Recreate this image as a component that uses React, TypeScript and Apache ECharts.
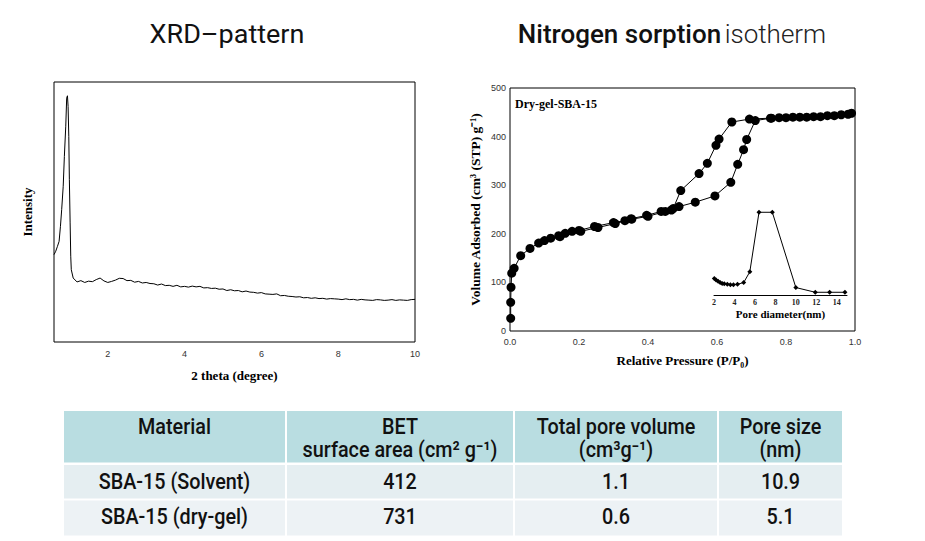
import React, { useEffect, useRef } from 'react';
import * as echarts from 'echarts';

// ---------- XRD pattern (2 theta in degrees, intensity in arbitrary units) ----------
const xrdTheta = [
  0.6, 0.645, 0.69, 0.733, 0.768, 0.8, 0.84, 0.87, 0.906, 0.93, 0.95, 0.967, 0.985, 1.0, 1.02, 1.036, 1.05,
  1.1, 1.2, 1.3, 1.4, 1.5, 1.6, 1.7, 1.8, 1.9, 2.0, 2.1, 2.2, 2.3, 2.4, 2.5, 2.6, 2.7, 2.8, 2.9, 3.0,
  3.1, 3.2, 3.3, 3.4, 3.5, 3.6, 3.7, 3.8, 3.9, 4.0, 4.1, 4.2, 4.3, 4.4, 4.5, 4.6, 4.7, 4.8, 4.9, 5.0,
  5.1, 5.2, 5.3, 5.4, 5.5, 5.6, 5.7, 5.8, 5.9, 6.0, 6.1, 6.2, 6.3, 6.4, 6.5, 6.6, 6.7, 6.8, 6.9, 7.0,
  7.1, 7.2, 7.3, 7.4, 7.5, 7.6, 7.7, 7.8, 7.9, 8.0, 8.1, 8.2, 8.3, 8.4, 8.5, 8.6, 8.7, 8.8, 8.9, 9.0,
  9.1, 9.2, 9.3, 9.4, 9.5, 9.6, 9.7, 9.8, 9.9, 10.0,
];
const xrdIntensity = [
  33.6, 34.9, 36.8, 38.7, 44.5, 50.9, 59.9, 71.4, 83.0, 93.8, 94.7, 90.6, 79.1, 62.4, 45.8, 33.0, 27.8,
  24.6, 23.1, 23.6, 22.9, 23.4, 23.2, 24.0, 24.6, 23.5, 22.9, 23.3, 23.8, 24.5, 24.4, 23.6, 23.7, 23.0, 23.3, 22.7, 22.9,
  22.5, 22.4, 21.9, 22.3, 21.7, 21.8, 21.4, 21.8, 21.2, 21.4, 21.1, 21.5, 21.2, 21.4, 20.8, 20.9, 20.6, 20.7, 20.3, 20.4,
  19.8, 20.1, 19.7, 19.8, 19.3, 19.6, 19.2, 19.1, 18.8, 19.0, 18.5, 18.4, 18.3, 18.5, 17.8, 17.9, 17.6, 17.5, 17.3, 17.4,
  17.0, 17.1, 16.8, 17.0, 16.7, 16.8, 16.5, 16.7, 16.6, 16.5, 16.3, 16.6, 16.3, 16.4, 16.1, 16.4, 16.2, 16.1, 16.0, 16.3,
  16.2, 16.0, 16.1, 16.3, 16.0, 16.2, 16.1, 16.0, 16.3, 16.4,
];

// ---------- N2 sorption isotherm (P/P0, cm3 (STP) g-1) ----------
const adsPressure = [
  0.002, 0.002, 0.003, 0.005, 0.012, 0.031, 0.058, 0.083, 0.1, 0.118, 0.141, 0.16, 0.18, 0.2, 0.245, 0.3,
  0.333, 0.351, 0.396, 0.438, 0.468, 0.49, 0.537, 0.594, 0.64, 0.66, 0.677, 0.686, 0.711, 0.758, 0.78,
  0.82, 0.86, 0.9, 0.94, 0.98,
];
const adsVolume = [
  26, 59, 90, 119, 129, 155, 170, 181, 186, 191, 196, 201, 205, 207, 215, 223,
  227, 231, 238, 246, 249, 256, 265, 278, 306, 343, 373, 394, 433, 438, 439,
  440, 440, 441, 443, 446,
];
const desPressure = [
  0.99, 0.96, 0.92, 0.88, 0.84, 0.8, 0.755, 0.694, 0.643, 0.606, 0.597, 0.572, 0.548, 0.495, 0.473,
  0.45, 0.4, 0.353, 0.305, 0.255, 0.205, 0.145,
];
const desVolume = [
  448, 445, 443, 441, 440, 439, 438, 436, 430, 395, 382, 345, 324, 289, 252,
  246, 236, 230, 221, 213, 205, 194,
];

// ---------- Pore size distribution inset (nm, arbitrary dV/dD) ----------
const poreDiameter = [2.03, 2.2, 2.4, 2.6, 2.8, 3.0, 3.3, 3.6, 3.9, 4.3, 4.9, 5.5, 6.4, 7.7, 10.0, 11.9, 13.3, 14.8];
const poreVolume = [20, 18, 16.5, 15, 14, 13.5, 13, 12.5, 12.5, 13, 15, 28, 100, 100, 9, 3.3, 3.3, 3.3];

// ---------- Table ----------
const tableHeader1 = ['Material', 'BET', 'Total pore volume', 'Pore size'];
const tableHeader2 = ['', 'surface area (cm\u00B2 g\u207B\u00B9)', '(cm\u00B3g\u207B\u00B9)', '(nm)'];
const tableRow1 = ['SBA-15 (Solvent)', '412', '1.1', '10.9'];
const tableRow2 = ['SBA-15 (dry-gel)', '731', '0.6', '5.1'];

const pairs = (xs: number[], ys: number[]) => xs.map((x, i) => [x, ys[i]]);

const SERIF = "'Liberation Serif', 'Times New Roman', serif";
const SANS = "'Liberation Sans', Arial, sans-serif";
const TITLE_FONT = "Roboto, 'Liberation Sans', sans-serif";
const TABLE_FONT = "Roboto, 'Liberation Sans', sans-serif";

export default function App() {
  const ref = useRef<HTMLDivElement>(null);

  useEffect(() => {
    document.body.style.margin = '0';
    if (!ref.current) return;
    const chart = echarts.init(ref.current, undefined, { renderer: 'svg' });

    const colX = [[64, 285], [287, 513], [515, 717], [719, 842]];
    const graphics: any[] = [];

    // titles
    graphics.push({
      type: 'text', x: 227, y: 34, scaleX: 1.08,
      style: { text: 'XRD\u2013pattern', font: `400 25px ${TITLE_FONT}`, fill: '#111', align: 'center', verticalAlign: 'middle' },
    });
    graphics.push({
      type: 'text', x: 672, y: 34, scaleX: 1.04,
      style: {
        text: '{b|Nitrogen sorption} {l|isotherm}', align: 'center', verticalAlign: 'middle',
        rich: {
          b: { font: `500 25px ${TITLE_FONT}`, fill: '#111' },
          l: { font: `300 25px ${TITLE_FONT}`, fill: '#222' },
        },
      },
    });
    graphics.push({
      type: 'text', x: 515, y: 104,
      style: { text: 'Dry-gel-SBA-15', font: `bold 12px ${SERIF}`, fill: '#000', align: 'left', verticalAlign: 'middle' },
    });

    // table cells
    const rowsY = [[411, 462.5], [465, 498.5], [500.5, 535.5]];
    const fills = ['#b9dde1', '#e5eef1', '#edf2f5'];
    rowsY.forEach((ry, r) => {
      colX.forEach((cx) => {
        graphics.push({
          type: 'rect',
          shape: { x: cx[0], y: ry[0], width: cx[1] - cx[0], height: ry[1] - ry[0] },
          style: { fill: fills[r] },
          silent: true,
        });
      });
    });
    const cellText = (t: string, cx: number, cy: number) => ({
      type: 'text', x: cx, y: cy, scaleX: 0.9,
      style: { text: t, font: `500 22px ${TABLE_FONT}`, fill: '#111', align: 'center', verticalAlign: 'middle' },
    });
    colX.forEach((cx, i) => {
      const mid = (cx[0] + cx[1]) / 2;
      graphics.push(cellText(tableHeader1[i], mid, 427));
      if (tableHeader2[i]) graphics.push(cellText(tableHeader2[i], mid, 450));
      graphics.push(cellText(tableRow1[i], mid, 482));
      graphics.push(cellText(tableRow2[i], mid, 517));
    });

    const axisNameStyle = { fontFamily: SERIF, fontWeight: 'bold', fontSize: 13, color: '#000' };
    const tickLabel = { fontFamily: SANS, fontSize: 9, color: '#333' };

    const option: any = {
      animation: false,
      backgroundColor: '#fff',
      grid: [
        { left: 54, top: 82, width: 361, height: 260, show: true, borderColor: '#000', borderWidth: 1, backgroundColor: 'transparent' },
        { left: 510, top: 88, width: 345, height: 243, show: true, borderColor: '#000', borderWidth: 1, backgroundColor: 'transparent' },
        { left: 714, top: 204, width: 133, height: 91, show: false },
      ],
      xAxis: [
        {
          gridIndex: 0, type: 'value', min: 0.6, max: 10,
          axisLine: { show: false }, axisTick: { show: false }, splitLine: { show: false },
          axisLabel: { ...tickLabel, margin: 7, customValues: [2, 4, 6, 8, 10] },
          name: '2 theta (degree)', nameLocation: 'middle', nameGap: 27, nameTextStyle: axisNameStyle,
        },
        {
          gridIndex: 1, type: 'value', min: 0, max: 1, interval: 0.2,
          axisLine: { show: false }, axisTick: { show: false }, splitLine: { show: false },
          axisLabel: { ...tickLabel, margin: 6, formatter: (v: number) => v.toFixed(1) },
          name: 'Relative Pressure (P/P\u2080)', nameLocation: 'middle', nameGap: 23, nameTextStyle: axisNameStyle,
        },
        {
          gridIndex: 2, type: 'value', min: 2, max: 15,
          axisLine: { show: true, lineStyle: { color: '#000', width: 1 } }, axisTick: { show: false }, splitLine: { show: false },
          axisLabel: { fontFamily: SERIF, fontWeight: 'bold', fontSize: 8, color: '#222', margin: 3, customValues: [2, 4, 6, 8, 10, 12, 14] },
          name: 'Pore diameter(nm)', nameLocation: 'middle', nameGap: 13,
          nameTextStyle: { fontFamily: SERIF, fontWeight: 'bold', fontSize: 11, color: '#000' },
        },
      ],
      yAxis: [
        {
          gridIndex: 0, type: 'value', min: 0, max: 100,
          axisLine: { show: false }, axisTick: { show: false }, splitLine: { show: false }, axisLabel: { show: false },
          name: 'Intensity', nameLocation: 'middle', nameGap: 20, nameRotate: 90, nameTextStyle: axisNameStyle,
        },
        {
          gridIndex: 1, type: 'value', min: 0, max: 500, interval: 100,
          axisLine: { show: false }, axisTick: { show: false }, splitLine: { show: false },
          axisLabel: { ...tickLabel, margin: 4 },
          name: 'Volume Adsorbed (cm\u00B3 (STP) g\u207B\u00B9)', nameLocation: 'middle', nameGap: 28, nameRotate: 90,
          nameTextStyle: { ...axisNameStyle, fontSize: 13.5 },
        },
        {
          gridIndex: 2, type: 'value', min: 0, max: 110, show: false,
        },
      ],
      series: [
        {
          type: 'line', xAxisIndex: 0, yAxisIndex: 0, data: pairs(xrdTheta, xrdIntensity),
          showSymbol: false, lineStyle: { color: '#000', width: 1 }, silent: true,
        },
        {
          type: 'line', xAxisIndex: 1, yAxisIndex: 1, data: pairs(adsPressure, adsVolume),
          symbol: 'circle', symbolSize: 9, itemStyle: { color: '#000' }, lineStyle: { color: '#000', width: 1 },
        },
        {
          type: 'line', xAxisIndex: 1, yAxisIndex: 1, data: pairs(desPressure, desVolume),
          symbol: 'circle', symbolSize: 9, itemStyle: { color: '#000' }, lineStyle: { color: '#000', width: 1 },
        },
        {
          type: 'line', xAxisIndex: 2, yAxisIndex: 2, data: pairs(poreDiameter, poreVolume),
          symbol: 'diamond', symbolSize: 5, itemStyle: { color: '#000' }, lineStyle: { color: '#000', width: 1 },
        },
      ],
      graphic: graphics,
    };

    chart.setOption(option);
    return () => chart.dispose();
  }, []);

  return <div ref={ref} style={{ width: 925, height: 541 }} />;
}
